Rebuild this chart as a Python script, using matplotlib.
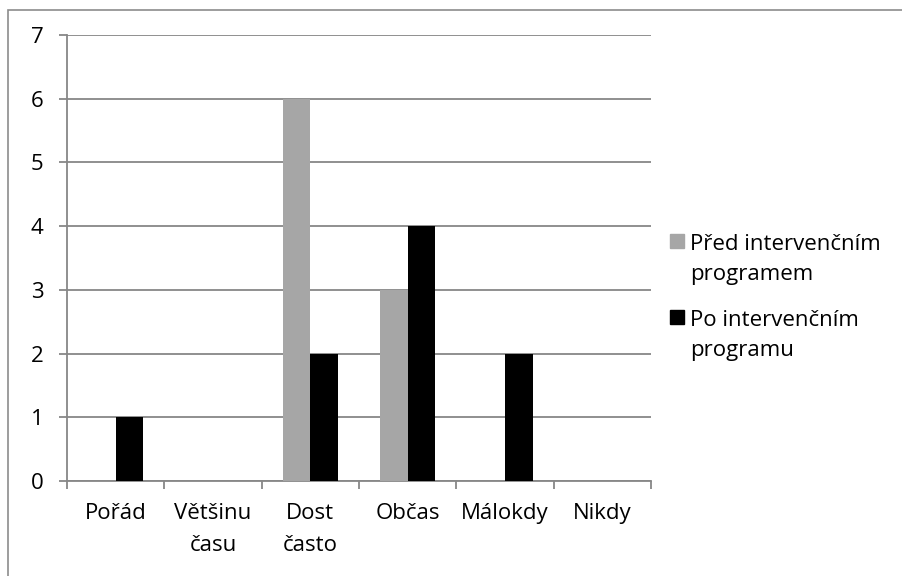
import matplotlib
matplotlib.use("Agg")
import matplotlib.pyplot as plt
from matplotlib.patches import Rectangle
from matplotlib.transforms import blended_transform_factory
import numpy as np

categories = ["Pořád", "Většinu\nčasu", "Dost\nčasto", "Občas", "Málokdy", "Nikdy"]
before = [0, 0, 6, 3, 0, 0]
after = [1, 0, 2, 4, 2, 0]
series_names = ["Před intervenčním\nprogramem", "Po intervenčním\nprogramu"]
series_colors = ["#a6a6a6", "#000000"]
y_ticks = [0, 1, 2, 3, 4, 5, 6, 7]

plt.rcParams["font.family"] = ["Open Sans", "DejaVu Sans"]
grid_col = "#878787"
fs = 16

fig = plt.figure(figsize=(9.02, 5.76), dpi=100)
W, H = 902, 576
ax = fig.add_axes([67 / W, (H - 481) / H, (651 - 67) / W, (481 - 35) / H])

# outer chart frame
fig.patches.append(Rectangle((8 / W, -0.1), 1.2, (H - 10) / H + 0.1,
                             transform=fig.transFigure, fill=False,
                             edgecolor="#8c8c8c", linewidth=1.2))

x = np.arange(len(categories))
w = 1 / 3.5
ax.bar(x - w / 2, before, width=w, color=series_colors[0], zorder=3)
ax.bar(x + w / 2, after, width=w, color=series_colors[1], zorder=3)

ax.set_xlim(-0.5, len(categories) - 0.5)
ax.set_ylim(0, 7)
ax.set_yticks(y_ticks)
ax.set_yticklabels([str(v) for v in y_ticks], fontsize=fs)
ax.yaxis.grid(True, color=grid_col, linewidth=1.3, zorder=0)
ax.tick_params(axis="y", length=6, width=1.3, color=grid_col, pad=11)

ax.set_xticks(np.arange(len(categories) + 1) - 0.5)
ax.set_xticklabels([])
ax.tick_params(axis="x", length=6, width=1.3, color=grid_col)

# category labels, one text per line
line_px = 32
trans = blended_transform_factory(ax.transData, fig.transFigure)
for i, c in enumerate(categories):
    for j, line in enumerate(c.split("\n")):
        fig.text(i, (H - 511 - j * line_px) / H, line, ha="center",
                 va="center_baseline", fontsize=fs, transform=trans)

for s in ["top", "right"]:
    ax.spines[s].set_visible(False)
for s in ["left", "bottom"]:
    ax.spines[s].set_color(grid_col)
    ax.spines[s].set_linewidth(1.3)

# legend entries: colour square plus two-line label
legend_tops = [242, 318]
for name, col, yc in zip(series_names, series_colors, legend_tops):
    fig.patches.append(Rectangle((670 / W, (H - yc - 6) / H), 14 / W, 14 / H,
                                 transform=fig.transFigure, color=col))
    for j, line in enumerate(name.split("\n")):
        fig.text(690 / W, (H - yc - j * 30) / H, line, ha="left",
                 va="center_baseline", fontsize=fs)

fig.savefig("out.png", dpi=100)
